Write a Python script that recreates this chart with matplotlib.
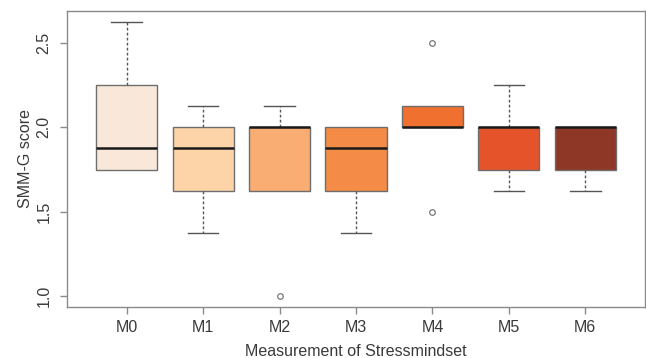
import matplotlib.pyplot as plt

plt.rcParams['font.family'] = ['Liberation Sans', 'DejaVu Sans']

# boxplot stats
labels = ["M0", "M1", "M2", "M3", "M4", "M5", "M6"]
whis_lo = [1.75, 1.375, 1.625, 1.375, 2.0, 1.625, 1.625]
q1 = [1.75, 1.625, 1.625, 1.625, 2.0, 1.75, 1.75]
medians = [1.875, 1.875, 2.0, 1.875, 2.0, 2.0, 2.0]
q3 = [2.25, 2.0, 2.0, 2.0, 2.125, 2.0, 2.0]
whis_hi = [2.625, 2.125, 2.125, 2.0, 2.125, 2.25, 2.0]
outliers = [[], [], [1.0], [], [2.5, 1.5], [], []]
colors = ["#F9E8DA", "#FDD3A8", "#F9AD73", "#F48B47", "#F07030", "#E4532A", "#8E3726"]

TEXT = "#3a3a3a"
FRAME = "#8a8a8a"

stats = []
for i in range(len(labels)):
    stats.append({"label": labels[i], "whislo": whis_lo[i], "q1": q1[i], "med": medians[i],
                  "q3": q3[i], "whishi": whis_hi[i], "fliers": outliers[i]})

fig = plt.figure(figsize=(6.46, 3.58), dpi=100)
ax = fig.add_axes([67 / 646, 1 - 307 / 358, 578 / 646, 296 / 358])

positions = list(range(1, len(labels) + 1))
bp = ax.bxp(stats, positions=positions, widths=0.8, patch_artist=True,
            boxprops=dict(edgecolor="#6e6e6e", linewidth=1.0),
            medianprops=dict(color="#1a1a1a", linewidth=1.8),
            whiskerprops=dict(color="#555555", linewidth=1.0, linestyle=(0, (2, 1.6))),
            capprops=dict(color="#555555", linewidth=1.0),
            flierprops=dict(marker="o", markersize=4, markerfacecolor="none",
                            markeredgecolor="#777777", markeredgewidth=0.9),
            capwidths=0.4)
for patch, c in zip(bp["boxes"], colors):
    patch.set_facecolor(c)

# zero-length whiskers: hide the staple, it would sit on the box edge
for i in range(len(labels)):
    if whis_lo[i] == q1[i]:
        bp["caps"][2 * i].set_visible(False)
    if whis_hi[i] == q3[i]:
        bp["caps"][2 * i + 1].set_visible(False)

ax.set_xlim(0.22, 7.78)
ax.set_ylim(0.935, 2.69)
ax.set_yticks([1.0, 1.5, 2.0, 2.5])
ax.set_yticklabels(["1.0", "1.5", "2.0", "2.5"], rotation=90, va="center")
ax.set_xticks(positions)
ax.set_xticklabels(labels)

for s in ax.spines.values():
    s.set_color(FRAME)
    s.set_linewidth(1.0)
ax.tick_params(colors=FRAME, labelcolor=TEXT, labelsize=11.5, length=5, width=1.0)
ax.tick_params(axis="y", pad=6)
ax.tick_params(axis="x", pad=4)

ax.set_xlabel("Measurement of Stressmindset", color=TEXT, fontsize=11.5, labelpad=7)
ax.set_ylabel("SMM-G score", color=TEXT, fontsize=11.5, labelpad=3)

fig.savefig("out.png", dpi=100)
